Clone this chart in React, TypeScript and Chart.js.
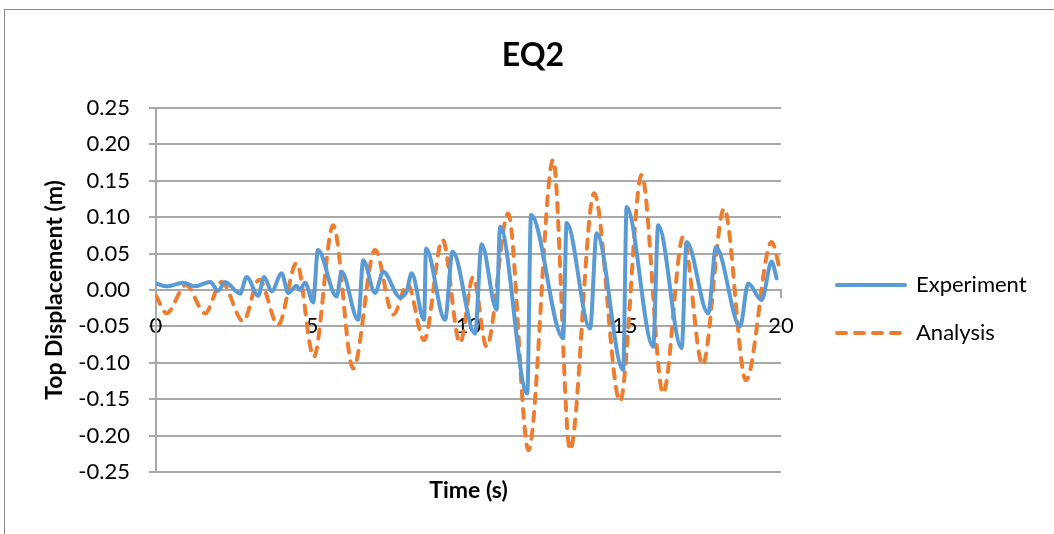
import React, { useEffect, useRef } from 'react';
import { Chart, registerables } from 'chart.js';

Chart.register(...registerables);

const chartTitle = 'EQ2';
const xTitle = 'Time (s)';
const yTitle = 'Top Displacement (m)';
const seriesNames = ['Experiment', 'Analysis'];

const xMin = 0;
const xMax = 20;
const xStep = 5;
const yMin = -0.25;
const yMax = 0.25;
const yStep = 0.05;

const timeExperiment = [
  0, 0.34, 0.87, 1.25, 1.73, 1.99, 2.21, 2.69, 2.9, 3.27, 3.46, 3.7, 4.02, 4.23, 4.5, 4.6, 4.77,
  5.03, 5.18, 5.78, 5.94, 6.47, 6.63, 7.01, 7.27, 7.81, 8.02, 8.18, 8.58, 8.64, 9.25, 9.49,
  10.21, 10.42, 10.9, 11.01, 11.88, 12.0, 13.03, 13.14, 13.89, 14.1, 14.95, 15.06, 15.91, 16.07,
  16.82, 16.98, 17.67, 17.92, 18.69, 18.95, 19.38, 19.7, 19.86,
];
const dispExperiment = [
  0.009, 0.005, 0.01, 0.005, 0.011, -0.001, 0.011, -0.005, 0.018, -0.008, 0.018, -0.002, 0.023,
  -0.004, 0.006, 0.0, 0.01, -0.017, 0.055, -0.009, 0.025, -0.041, 0.041, -0.004, 0.025, -0.01,
  -0.002, 0.023, -0.041, 0.057, -0.041, 0.053, -0.06, 0.063, -0.027, 0.087, -0.142, 0.103,
  -0.066, 0.092, -0.053, 0.078, -0.11, 0.114, -0.078, 0.089, -0.08, 0.066, -0.032, 0.059,
  -0.05, 0.009, -0.014, 0.039, 0.016,
];

const timeAnalysis = [
  0, 0.34, 0.96, 1.57, 2.1, 2.79, 3.3, 3.91, 4.5, 5.05, 5.67, 6.31, 7.01, 7.59, 8.05, 8.58, 9.17,
  9.73, 10.15, 10.58, 11.27, 11.92, 12.71, 13.25, 14.02, 14.85, 15.54, 16.23, 16.87, 17.49,
  18.18, 18.88, 19.7, 19.97,
];
const dispAnalysis = [
  -0.008, -0.032, 0.007, -0.032, 0.011, -0.043, 0.014, -0.048, 0.037, -0.092, 0.089, -0.108,
  0.055, -0.034, 0.008, -0.069, 0.069, -0.073, 0.018, -0.078, 0.105, -0.22, 0.179, -0.22, 0.133,
  -0.153, 0.158, -0.142, 0.073, -0.103, 0.112, -0.124, 0.066, 0.027,
];

const BLUE = '#5B9BD5';
const ORANGE = '#ED7D31';
const GRID = '#a9a9a9';
const FONT = 'Lato';

export default function App() {
  const ref = useRef<HTMLCanvasElement>(null);

  useEffect(() => {
    const canvas = ref.current;
    if (!canvas) return;
    Chart.defaults.font.family = FONT;
    const chart = new Chart(canvas, {
      type: 'line',
      data: {
        datasets: [
          {
            label: seriesNames[0],
            data: timeExperiment.map((t, i) => ({ x: t, y: dispExperiment[i] })),
            borderColor: BLUE,
            backgroundColor: BLUE,
            borderWidth: 4,
            pointRadius: 0,
            cubicInterpolationMode: 'monotone',
            borderCapStyle: 'round',
            borderJoinStyle: 'round',
          },
          {
            label: seriesNames[1],
            data: timeAnalysis.map((t, i) => ({ x: t, y: dispAnalysis[i] })),
            borderColor: ORANGE,
            backgroundColor: ORANGE,
            borderWidth: 4,
            borderDash: [9, 9],
            pointRadius: 0,
            cubicInterpolationMode: 'monotone',
            borderCapStyle: 'round',
            borderJoinStyle: 'round',
          },
        ],
      },
      options: {
        responsive: false,
        animation: false,
        devicePixelRatio: 1,
        events: [],
        layout: { padding: { left: 12, right: 0, top: 0, bottom: 0 }, autoPadding: false },
        plugins: {
          tooltip: { enabled: false },
          title: {
            display: true,
            text: chartTitle,
            color: '#000',
            font: { family: FONT, size: 32, weight: 'bold' },
            padding: { top: 36, bottom: 33.6 },
          },
          legend: {
            display: true,
            position: 'right',
            align: 'start',
            maxWidth: 262,
            title: { display: true, text: '', font: { size: 12 }, padding: { top: 233.6, bottom: 0 } },
            labels: {
              usePointStyle: true,
              pointStyleWidth: 68,
              padding: 26,
              color: '#000',
              font: { family: FONT, size: 22 },
              generateLabels: (c: any) =>
                c.data.datasets.map((ds: any, i: number) => ({
                  text: ds.label,
                  fillStyle: 'rgba(0,0,0,0)',
                  strokeStyle: ds.borderColor,
                  lineWidth: 4,
                  lineDash: ds.borderDash || [],
                  lineCap: 'round',
                  pointStyle: 'line',
                  fontColor: '#000',
                  hidden: false,
                  datasetIndex: i,
                })),
            },
          },
        },
        scales: {
          x: {
            type: 'linear',
            position: 'bottom',
            min: xMin,
            max: xMax,
            ticks: { display: false, stepSize: xStep },
            grid: { display: false },
            border: { display: false },
            title: {
              display: true,
              text: xTitle,
              color: '#000',
              font: { family: FONT, size: 23, weight: 'bold' },
              padding: { top: 0, bottom: 29.7 },
            },
            afterFit: (s: any) => {
              s.height = 62;
            },
          },
          x2: {
            type: 'linear',
            position: { y: 0 },
            min: xMin,
            max: xMax,
            ticks: {
              stepSize: xStep,
              color: '#000',
              padding: 15.3,
              font: { family: FONT, size: 22 },
              maxRotation: 0,
            },
            grid: {
              display: true,
              drawOnChartArea: false,
              drawTicks: true,
              tickLength: 7,
              color: GRID,
              lineWidth: 2,
            },
            border: { display: true, color: GRID, width: 2 },
            afterFit: (s: any) => {
              s.height = 0;
            },
          },
          y: {
            type: 'linear',
            position: 'left',
            min: yMin,
            max: yMax,
            ticks: {
              stepSize: yStep,
              color: '#000',
              padding: 19,
              font: { family: FONT, size: 22 },
              callback: (v: any) => {
                const n = Number(v);
                return Math.abs(n) < 1e-9 ? '0.00' : n.toFixed(2);
              },
            },
            grid: { color: GRID, lineWidth: 2, tickLength: 7, drawTicks: true },
            border: { display: true, color: GRID, width: 2 },
            title: {
              display: true,
              text: yTitle,
              color: '#000',
              font: { family: FONT, size: 23, weight: 'bold' },
              padding: { top: 29.2, bottom: 0 },
            },
            afterFit: (s: any) => {
              s.width = 144;
            },
          },
          gapInner: {
            type: 'linear',
            position: 'right',
            display: false,
            weight: 0,
            afterFit: (s: any) => {
              s.width = 30;
            },
          },
          gapOuter: {
            type: 'linear',
            position: 'right',
            display: false,
            weight: 2000,
            afterFit: (s: any) => {
              const lw = s.chart.legend ? s.chart.legend.width : 0;
              s.width = Math.max(0, 1054 - 781 - 30 - lw);
            },
          },
        },
      } as any,
    });
    return () => chart.destroy();
  }, []);

  return (
    <div
      style={{
        position: 'fixed',
        left: 0,
        top: 0,
        width: 1054,
        height: 534,
        overflow: 'hidden',
        background: '#fff',
      }}
    >
      <canvas ref={ref} width={1054} height={534} style={{ display: 'block', width: 1054, height: 534 }} />
      <div
        style={{
          position: 'absolute',
          left: 4,
          top: 9,
          width: 1100,
          height: 600,
          borderTop: '1px solid #888',
          borderLeft: '1px solid #888',
          pointerEvents: 'none',
        }}
      />
    </div>
  );
}
